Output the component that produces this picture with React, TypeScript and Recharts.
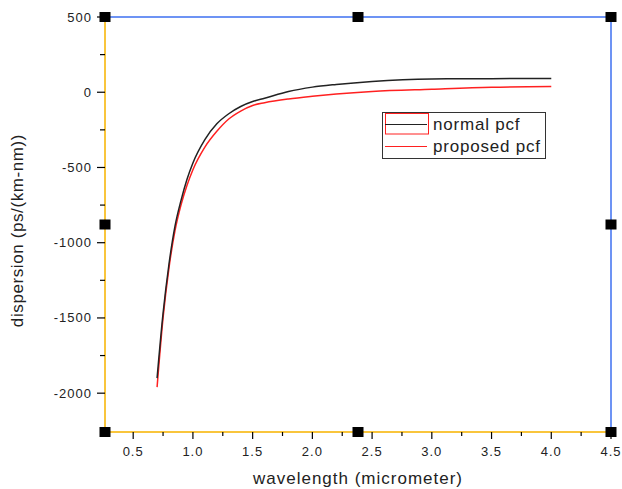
import {
  LineChart,
  Line,
  XAxis,
  YAxis,
  ReferenceLine,
  ReferenceDot,
  Legend,
} from "recharts";

// values
const wavelength = [0.7, 0.75, 0.8, 0.85, 0.9, 0.95, 1.0, 1.1, 1.2, 1.3, 1.4, 1.5, 1.6, 1.8, 2.0, 2.2, 2.5, 3.0, 3.5, 4.0];
const normalPcf = [-1900, -1470, -1140, -890, -720, -580, -470, -315, -210, -143, -95, -62, -40, 5, 34, 52, 72, 88, 90, 92];
const proposedPcf = [-1960, -1500, -1165, -920, -750, -620, -515, -365, -260, -178, -125, -88, -70, -45, -27, -12, 5, 20, 33, 38];

const xTicks = [0.5, 0.75, 1.0, 1.25, 1.5, 1.75, 2.0, 2.25, 2.5, 2.75, 3.0, 3.25, 3.5, 3.75, 4.0, 4.25, 4.5];
const yTicks = [500, 250, 0, -250, -500, -750, -1000, -1250, -1500, -1750, -2000];

const X_MIN = 0.264;
const X_MAX = 4.5;
const Y_MIN = -2258;
const Y_MAX = 500;

const YELLOW = "#f9c53c";
const BLUE = "#3d6ff0";
const FONT = "'Liberation Sans', Arial, sans-serif";

const data = wavelength.map((w, i) => ({
  w,
  normal: normalPcf[i],
  proposed: proposedPcf[i],
}));

// selection handles on the frame
const handles = [
  { x: X_MIN, y: Y_MAX },
  { x: (X_MIN + X_MAX) / 2, y: Y_MAX },
  { x: X_MAX, y: Y_MAX },
  { x: X_MIN, y: (Y_MIN + Y_MAX) / 2 },
  { x: X_MAX, y: (Y_MIN + Y_MAX) / 2 },
  { x: X_MIN, y: Y_MIN },
  { x: (X_MIN + X_MAX) / 2, y: Y_MIN },
  { x: X_MAX, y: Y_MIN },
];

const XTick = ({ x, y, payload }: any) => {
  const major = Math.abs((payload.value * 2) % 1) < 1e-6;
  return (
    <g>
      <line x1={x} x2={x} y1={y} y2={y + (major ? 7 : 4)} stroke="#000" strokeWidth={1.2} />
      {major && (
        <text x={x} y={y + 24} textAnchor="middle" fontSize={13} letterSpacing={1} fill="#222" fontFamily={FONT}>
          {payload.value.toFixed(1)}
        </text>
      )}
    </g>
  );
};

const YTick = ({ x, y, payload }: any) => {
  const major = payload.value % 500 === 0;
  return (
    <g>
      <line x1={x - (major ? 8 : 5)} x2={x} y1={y} y2={y} stroke="#000" strokeWidth={1.2} />
      {major && (
        <text x={x - 13} y={y} dy="0.35em" textAnchor="end" fontSize={13} letterSpacing={1} fill="#222" fontFamily={FONT}>
          {payload.value}
        </text>
      )}
    </g>
  );
};

const XLabel = ({ viewBox }: any) => (
  <text
    x={viewBox.x + viewBox.width / 2}
    y={viewBox.y + 52}
    textAnchor="middle"
    fontSize={17}
    letterSpacing={1}
    fill="#222"
    fontFamily={FONT}
  >
    wavelength (micrometer)
  </text>
);

const YLabel = ({ viewBox }: any) => {
  const cx = 17;
  const cy = viewBox.y + viewBox.height / 2 + 6;
  return (
    <text
      x={cx}
      y={cy}
      transform={`rotate(-90 ${cx} ${cy})`}
      textAnchor="middle"
      dominantBaseline="central"
      fontSize={17}
      letterSpacing={0.6}
      fill="#222"
      fontFamily={FONT}
    >
      dispersion (ps/(km-nm))
    </text>
  );
};

const LegendBox = () => (
  <svg width={164} height={47} style={{ display: "block" }}>
    <rect x={0.5} y={0.5} width={163} height={46} fill="#fff" stroke="#333" strokeWidth={1} />
    <rect x={3.5} y={1.5} width={43} height={20.5} fill="none" stroke="#ff2020" strokeWidth={1} />
    <line x1={3} x2={45} y1={12.5} y2={12.5} stroke="#222" strokeWidth={1.2} />
    <text x={51} y={18} fontSize={17} letterSpacing={0.8} fill="#222" fontFamily={FONT}>
      normal pcf
    </text>
    <line x1={3} x2={45} y1={34.5} y2={34.5} stroke="#ff2020" strokeWidth={1.2} />
    <text x={51} y={40} fontSize={17} letterSpacing={0.8} fill="#222" fontFamily={FONT}>
      proposed pcf
    </text>
  </svg>
);

const Handle = ({ cx, cy }: any) => (
  <rect x={cx - 5.5} y={cy - 5} width={11} height={10} fill="#000" />
);

export default function App() {
  return (
    <div style={{ position: "absolute", left: 0, top: 0, width: 622, height: 489, background: "#fff" }}>
      <LineChart width={622} height={489} data={data} margin={{ top: 17, right: 11, bottom: 0, left: 0 }}>
        <XAxis
          dataKey="w"
          type="number"
          domain={[X_MIN, X_MAX]}
          ticks={xTicks}
          interval={0}
          allowDataOverflow
          height={57}
          tickSize={0}
          tickMargin={0}
          tickLine={false}
          axisLine={{ stroke: YELLOW, strokeWidth: 2 }}
          tick={<XTick />}
          label={<XLabel />}
        />
        <YAxis
          type="number"
          domain={[Y_MIN, Y_MAX]}
          ticks={yTicks}
          interval={0}
          allowDataOverflow
          width={105}
          tickSize={0}
          tickMargin={0}
          tickLine={false}
          axisLine={{ stroke: YELLOW, strokeWidth: 2 }}
          tick={<YTick />}
          label={<YLabel />}
        />
        <ReferenceLine y={Y_MAX} stroke={BLUE} strokeWidth={1.5} ifOverflow="visible" />
        <ReferenceLine x={X_MAX} stroke={BLUE} strokeWidth={1.5} ifOverflow="visible" />
        <Line
          type="monotone"
          dataKey="proposed"
          stroke="#ff2020"
          strokeWidth={1.5}
          dot={false}
          isAnimationActive={false}
        />
        <Line
          type="monotone"
          dataKey="normal"
          stroke="#222"
          strokeWidth={1.5}
          dot={false}
          isAnimationActive={false}
        />
        {handles.map((h, i) => (
          <ReferenceDot key={i} x={h.x} y={h.y} r={5} ifOverflow="visible" shape={<Handle />} />
        ))}
        <Legend
          layout="vertical"
          align="center"
          verticalAlign="middle"
          wrapperStyle={{ left: 382, top: 112, width: 164 }}
          content={<LegendBox />}
        />
      </LineChart>
    </div>
  );
}
